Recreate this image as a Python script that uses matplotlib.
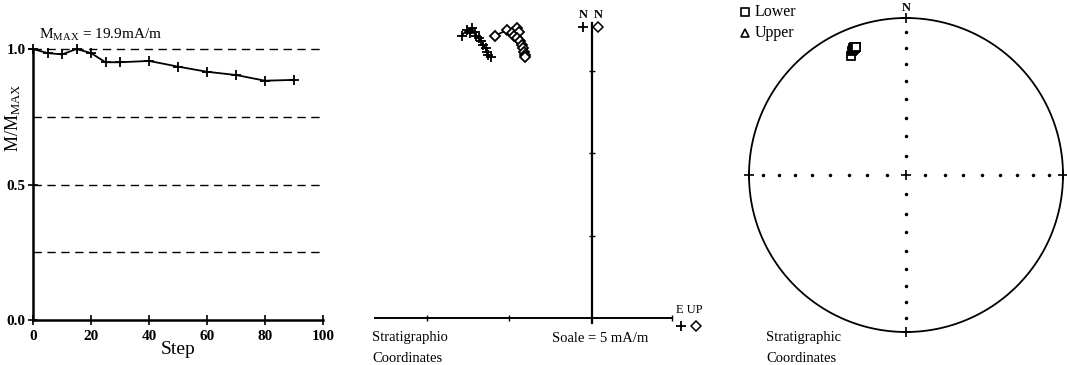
import numpy as np
import matplotlib
matplotlib.use('Agg')
import matplotlib.pyplot as plt

plt.rcParams['font.family'] = ['Liberation Serif', 'DejaVu Serif']
plt.rcParams['mathtext.fontset'] = 'stix'

# demag steps and normalised intensity
step = [0, 5, 10, 15, 20, 25, 30, 40, 50, 60, 70, 80, 90]
m_norm = [1.0, 0.985, 0.98, 1.0, 0.985, 0.951, 0.951, 0.956, 0.935, 0.916, 0.904, 0.883, 0.886]
m_max = 19.9  # mA/m

# vector components per step (mA/m)
north = [17.1, 17.45, 17.3, 17.55, 17.35, 17.1, 16.95, 16.8, 16.55, 16.35, 16.15, 15.95, 15.8]
east = [-7.9, -7.6, -7.4, -7.3, -7.1, -7.0, -6.85, -6.7, -6.6, -6.45, -6.35, -6.3, -6.15]
up = [-5.9, -5.15, -4.85, -4.55, -4.4, -4.7, -4.55, -4.35, -4.25, -4.2, -4.1, -4.05, -4.05]

W, H = 1067, 365
fig = plt.figure(figsize=(W/100, H/100), dpi=100)

def fx(px):
  return px/W
def fy(py):
  return 1-py/H

########## panel 1: intensity decay
ax1 = fig.add_axes([fx(33), fy(320), 290/W, 271/H])
for y in [0.25, 0.5, 0.75, 1.0]:
  ax1.axhline(y, color='k', ls=(0, (6, 4)), lw=1.0, clip_on=False)
ax1.plot(step, m_norm, 'k-', marker='+', ms=7, mew=1.3, lw=1.3, clip_on=False, zorder=3)
ax1.set_xlim(0, 100)
ax1.set_ylim(0, 1)
ax1.spines['top'].set_visible(False)
ax1.spines['right'].set_visible(False)
ax1.spines['left'].set_linewidth(1.8)
ax1.spines['bottom'].set_linewidth(1.8)
ax1.set_xticks([0, 20, 40, 60, 80, 100])
ax1.set_yticks([0, 0.5, 1.0])
ax1.set_yticklabels(['0.0', '0.5', '1.0'])
ax1.tick_params(direction='inout', length=7, width=1.2, labelsize=11)
ax1.tick_params(axis='y', pad=2)
ax1.tick_params(axis='x', pad=4)
for lab in ax1.get_xticklabels()+ax1.get_yticklabels():
  lab.set_fontweight('bold')
ax1.set_xlabel('Step', fontsize=14, labelpad=-2)
fig.text(fx(13), fy(118), r'M/M$_{\mathregular{MAX}}$', rotation=90, ha='center', va='center', fontsize=13)
fig.text(fx(101), fy(35), r'M$_{\mathregular{MAX}}$ = %.1fmA/m' % m_max, ha='center', va='center', fontsize=11)

########## panel 2: zijderveld
ox, oy, sc = 592, 318, 16.5  # origin pixel, px per mA/m
ax2 = fig.add_axes([fx(360), fy(330), 340/W, 320/H])
ax2.set_xlim((360-ox)/sc, (700-ox)/sc)
ax2.set_ylim((oy-330)/sc, (oy-10)/sc)
ax2.axis('off')
ax2.plot([(375-ox)/sc, (672-ox)/sc], [0, 0], 'k-', lw=1.4)
ax2.plot([0, 0], [(oy-323)/sc, (oy-23)/sc], 'k-', lw=1.6)
ax2.plot([-10, -5, (672-ox)/sc], [0, 0, 0], 'k|', ms=4, mew=1)
ax2.plot([0, 0, 0], [5, 10, 15], 'k_', ms=4, mew=1)
ax2.plot(east, north, 'k-', marker='+', ms=7, mew=1.3, lw=1.2)
ax2.plot(up, north, 'k-', marker='D', ms=5, mew=1.3, mfc='white', lw=1.2)

fig.text(fx(583), fy(15), 'N', ha='center', va='center', fontsize=9, fontweight='bold')
fig.text(fx(598), fy(15), 'N', ha='center', va='center', fontsize=9, fontweight='bold')
ax2.plot([(583-ox)/sc], [(oy-27)/sc], 'k+', ms=7, mew=1.3, clip_on=False)
ax2.plot([(598-ox)/sc], [(oy-27)/sc], 'kD', ms=5, mfc='white', mew=1.1, clip_on=False)
fig.text(fx(676), fy(310), 'E UP', ha='left', va='center', fontsize=9)
ax2.plot([(681-ox)/sc], [(oy-326)/sc], 'k+', ms=7, mew=1.3, clip_on=False)
ax2.plot([(696-ox)/sc], [(oy-326)/sc], 'kD', ms=5, mfc='white', mew=1.1, clip_on=False)
fig.text(fx(372), fy(338), 'Stratigraphio', ha='left', va='center', fontsize=10.5)
fig.text(fx(372), fy(359), 'Coordinates', ha='left', va='center', fontsize=10.5)
fig.text(fx(552), fy(338), 'Soale = 5 mA/m', ha='left', va='center', fontsize=10.5)

########## panel 3: equal area stereonet
cx, cy, R = 906, 175, 157
ax3 = fig.add_axes([fx(745), fy(335), 322/W, 320/H])
ax3.set_xlim((745-cx)/R, (1067-cx)/R)
ax3.set_ylim((cy-335)/R, (cy-15)/R)
ax3.axis('off')
th = np.linspace(0, 2*np.pi, 400)
ax3.plot(np.cos(th), np.sin(th), 'k-', lw=1.3, clip_on=False)
rr = np.sqrt(2)*np.sin(np.radians(90-np.arange(10, 90, 10))/2)
for sx, sy in [(0, 1), (0, -1), (1, 0), (-1, 0)]:
  ax3.plot(sx*rr, sy*rr, 'k.', ms=3)
ax3.plot([0, 0, 0, 1, -1], [0, 1, -1, 0, 0], 'k+', ms=7, mew=1.2, clip_on=False)
fig.text(fx(cx), fy(8), 'N', ha='center', va='center', fontsize=9, fontweight='bold')

n = np.array(north); e = np.array(east); u = np.array(up)
dec = np.arctan2(e, n)
inc = np.arctan2(-u, np.hypot(n, e))
r = np.sqrt(2)*np.sin((np.pi/2-np.abs(inc))/2)
px = r*np.sin(dec)
py = r*np.cos(dec)
low = inc >= 0
ax3.plot(px[low], py[low], 's', ls='none', ms=6, mfc='white', mec='k', mew=1.3)
ax3.plot(px[~low], py[~low], '^', ls='none', ms=6, mfc='white', mec='k', mew=1.3)

ax3.plot([(745-cx)/R], [(cy-12)/R], 's', ms=6, mfc='white', mec='k', mew=1.2, clip_on=False)
ax3.plot([(745-cx)/R], [(cy-33)/R], '^', ms=6, mfc='white', mec='k', mew=1.2, clip_on=False)
fig.text(fx(755), fy(12), 'Lower', ha='left', va='center', fontsize=11.5)
fig.text(fx(755), fy(33), 'Upper', ha='left', va='center', fontsize=11.5)
fig.text(fx(766), fy(338), 'Stratigraphic', ha='left', va='center', fontsize=10.5)
fig.text(fx(766), fy(359), 'Coordinates', ha='left', va='center', fontsize=10.5)

fig.savefig('out.png', dpi=100)
